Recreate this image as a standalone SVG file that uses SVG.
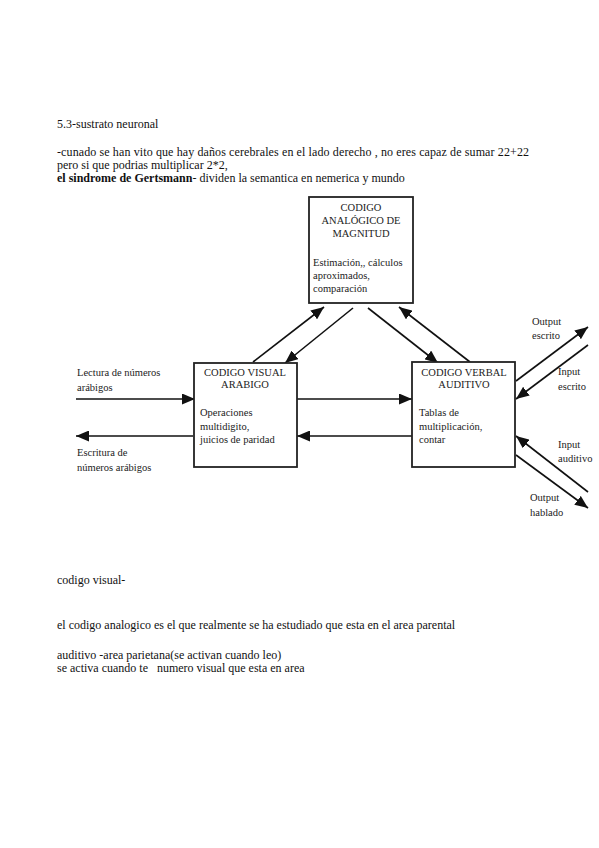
<svg xmlns="http://www.w3.org/2000/svg" width="599" height="848" viewBox="0 0 599 848">
<style>
.t{font-family:"Liberation Serif","Times New Roman",Tinos,serif;font-size:12px;fill:#111}
.d{font-family:"Liberation Serif","Times New Roman",Tinos,serif;font-size:10.5px;fill:#222}
.c{text-anchor:middle}
.box{fill:#fff;stroke:#222;stroke-width:1.8}
.ln{stroke:#111;stroke-width:1.6;fill:none}
</style>
<defs>
<marker id="ah" markerUnits="userSpaceOnUse" markerWidth="13" markerHeight="11" viewBox="0 0 13 11" refX="13" refY="5.5" orient="auto">
<path d="M0,0 L13,5.5 L0,11 Z" fill="#111"/>
</marker>
</defs>
<rect width="599" height="848" fill="#fff"/>
<g id="text-top">
<text class="t" x="57" y="128">5.3-sustrato neuronal</text>
<text class="t" x="57" y="156" textLength="472" lengthAdjust="spacing">-cunado se han vito que hay daños cerebrales en el lado derecho , no eres capaz de sumar 22+22</text>
<text class="t" x="57" y="169">pero si que podrias multiplicar 2*2,</text>
<text class="t" x="57" y="182"><tspan font-weight="bold">el sindrome de Gertsmann</tspan>- dividen la semantica en nemerica y mundo</text>
</g>
<g id="connectors">
<line class="ln" x1="76" y1="399" x2="195" y2="399" marker-end="url(#ah)"/>
<line class="ln" x1="193" y1="436" x2="76" y2="436" marker-end="url(#ah)"/>
<line class="ln" x1="297" y1="399" x2="412" y2="399" marker-end="url(#ah)"/>
<line class="ln" x1="412" y1="436" x2="297" y2="436" marker-end="url(#ah)"/>
<line class="ln" x1="253" y1="362" x2="324" y2="307" marker-end="url(#ah)"/>
<line class="ln" x1="353" y1="308" x2="285" y2="363" marker-end="url(#ah)"/>
<line class="ln" x1="368" y1="308" x2="438" y2="363" marker-end="url(#ah)"/>
<line class="ln" x1="470" y1="362" x2="399" y2="307" marker-end="url(#ah)"/>
<line class="ln" x1="516" y1="381" x2="588" y2="327" marker-end="url(#ah)"/>
<line class="ln" x1="588" y1="345" x2="516" y2="399" marker-end="url(#ah)"/>
<line class="ln" x1="588" y1="492" x2="516" y2="436" marker-end="url(#ah)"/>
<line class="ln" x1="516" y1="455" x2="588" y2="508" marker-end="url(#ah)"/>
</g>
<g id="node-analogico">
<rect class="box" x="309" y="197" width="104" height="106"/>
<text class="d c" x="361" y="211">CODIGO</text>
<text class="d c" x="361" y="224">ANALÓGICO DE</text>
<text class="d c" x="361" y="237">MAGNITUD</text>
<text class="d" x="313" y="266">Estimación,, cálculos</text>
<text class="d" x="313" y="279">aproximados,</text>
<text class="d" x="313" y="292">comparación</text>
</g>
<g id="node-visual">
<rect class="box" x="194" y="363" width="103" height="104"/>
<text class="d c" x="245" y="376">CODIGO VISUAL</text>
<text class="d c" x="245" y="388">ARABIGO</text>
<text class="d" x="200" y="416">Operaciones</text>
<text class="d" x="200" y="430">multidigito,</text>
<text class="d" x="200" y="443">juicios de paridad</text>
</g>
<g id="node-verbal">
<rect class="box" x="412" y="362" width="103" height="105"/>
<text class="d c" x="464" y="376">CODIGO VERBAL</text>
<text class="d c" x="464" y="388">AUDITIVO</text>
<text class="d" x="419" y="416">Tablas de</text>
<text class="d" x="419" y="430">multiplicación,</text>
<text class="d" x="419" y="443">contar</text>
</g>
<g id="labels">
<text class="d" x="77" y="376">Lectura de números</text>
<text class="d" x="77" y="391">arábigos</text>
<text class="d" x="77" y="456">Escritura de</text>
<text class="d" x="77" y="471">números arábigos</text>
<text class="d" x="532" y="325">Output</text>
<text class="d" x="532" y="339">escrito</text>
<text class="d" x="558" y="375">Input</text>
<text class="d" x="558" y="390">escrito</text>
<text class="d" x="558" y="448">Input</text>
<text class="d" x="558" y="462">auditivo</text>
<text class="d" x="530" y="501">Output</text>
<text class="d" x="530" y="516">hablado</text>
</g>
<g id="text-bottom">
<text class="t" x="57" y="584">codigo visual-</text>
<text class="t" x="57" y="629">el codigo analogico es el que realmente se ha estudiado que esta en el area parental</text>
<text class="t" x="57" y="659">auditivo -area parietana(se activan cuando leo)</text>
<text class="t" x="57" y="672" xml:space="preserve" style="white-space:pre">se activa cuando te   numero visual que esta en area</text>
</g>
</svg>
